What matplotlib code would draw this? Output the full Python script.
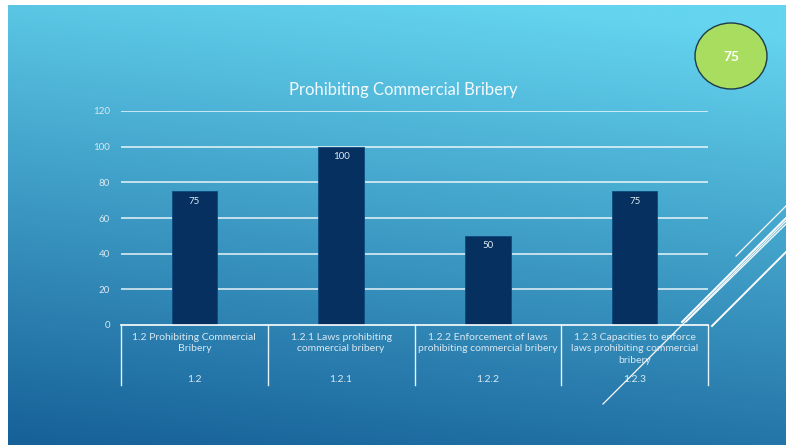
import numpy as np
import matplotlib
matplotlib.use("Agg")
import matplotlib.pyplot as plt
from matplotlib.patches import Ellipse
from matplotlib.lines import Line2D
import matplotlib.transforms as mtransforms

# Data
categories = ["1.2 Prohibiting Commercial\nBribery",
              "1.2.1 Laws prohibiting\ncommercial bribery",
              "1.2.2 Enforcement of laws\nprohibiting commercial bribery",
              "1.2.3 Capacities to enforce\nlaws prohibiting commercial\nbribery"]
codes = ["1.2", "1.2.1", "1.2.2", "1.2.3"]
values = [75, 100, 50, 75]
yticks = [0, 20, 40, 60, 80, 100, 120]
title = "Prohibiting Commercial Bribery"
score = "75"

plt.rcParams['font.family'] = ['Lato', 'DejaVu Sans']

W, H = 786, 445
fig = plt.figure(figsize=(W / 100, H / 100), dpi=100)
fig.patch.set_facecolor("white")

# Slide background with a diagonal blue gradient
bg = fig.add_axes([8 / W, 0, 1 - 8 / W, 1 - 5 / H])
bg.set_axis_off()
ny, nx = 220, 390
yy, xx = np.mgrid[0:1:ny * 1j, 0:1:nx * 1j]
t = np.clip(0.88 * yy - 0.18 * xx + 0.12, 0, 1)
top = np.array([100, 212, 239]) / 255
bot = np.array([22, 96, 152]) / 255
img = top[None, None, :] * (1 - t[..., None]) + bot[None, None, :] * t[..., None]
bg.imshow(img, aspect="auto", extent=[0, 1, 1, 0], interpolation="bilinear")
bg.set_xlim(0, 1)
bg.set_ylim(1, 0)

# Chart axes
x0, x1 = 121, 708
y0, y1 = 325, 111
ax = fig.add_axes([x0 / W, 1 - y0 / H, (x1 - x0) / W, (y0 - y1) / H])
ax.patch.set_alpha(0)
for s in ax.spines.values():
    s.set_visible(False)

x = np.arange(len(values))
ax.set_xlim(-0.5, len(values) - 0.5)
ax.set_ylim(0, 120)
for v in yticks[1:]:
    ax.axhline(v, color="white", alpha=0.75, lw=1.3, zorder=1)
bars = ax.bar(x, values, width=0.31, color="#05305F", edgecolor="#0d4a7e",
              linewidth=0.6, zorder=3)
for xi, v in zip(x, values):
    ax.annotate(str(v), (xi, v), xytext=(0, -4), textcoords="offset points",
                ha="center", va="top", fontsize=7, color="#dfe9f2", zorder=4)

txt_col = "#d8e8f2"
ax.set_xticks([])
ax.set_yticks(yticks)
ax.set_yticklabels([str(v) for v in yticks], fontsize=7, color=txt_col)
ax.tick_params(axis="y", length=0, pad=8)

# Category table below the axis
trans = mtransforms.blended_transform_factory(ax.transData, ax.transAxes)
px = 1.0 / (y0 - y1)
ax.add_line(Line2D([-0.5, len(values) - 0.5], [0, 0], transform=trans,
                   color="white", lw=1.2, clip_on=False, zorder=5))
for b in np.arange(len(values) + 1) - 0.5:
    ax.add_line(Line2D([b, b], [0, -60 * px], transform=trans,
                       color="white", lw=1.0, alpha=0.9, clip_on=False))
for xi, lab, code in zip(x, categories, codes):
    ax.text(xi, -8 * px, lab, transform=trans, ha="center", va="top",
            fontsize=7.5, color=txt_col, linespacing=1.35, clip_on=False)
    ax.text(xi, -55 * px, code, transform=trans, ha="center", va="center",
            fontsize=7.5, color=txt_col, clip_on=False)

# Title
fig.text(403 / W, 1 - 90 / H, title, ha="center", va="center",
         fontsize=12, color="#f4fafd")

# Score badge
fig.patches.append(Ellipse((731 / W, 1 - 56 / H), 72 / W, 66 / H,
                           transform=fig.transFigure, facecolor="#A9DD5F",
                           edgecolor="#1d3a4a", lw=1.0, zorder=5))
fig.text(731 / W, 1 - 57 / H, score, ha="center", va="center",
         fontsize=10, fontweight="bold", color="white", zorder=6)

# Decorative diagonal strokes
strokes = [((736, 256), (786, 206), 0.9),
           ((682, 322), (786, 218), 1.4),
           ((686, 322), (786, 224), 0.9),
           ((712, 326), (786, 252), 1.4),
           ((603, 404), (786, 221), 0.9)]
for (xa, ya), (xb, yb), lw in strokes:
    fig.lines.append(Line2D([xa / W, xb / W], [1 - ya / H, 1 - yb / H],
                            transform=fig.transFigure, color="white", lw=lw,
                            zorder=7))

fig.savefig("out.png", dpi=100)
